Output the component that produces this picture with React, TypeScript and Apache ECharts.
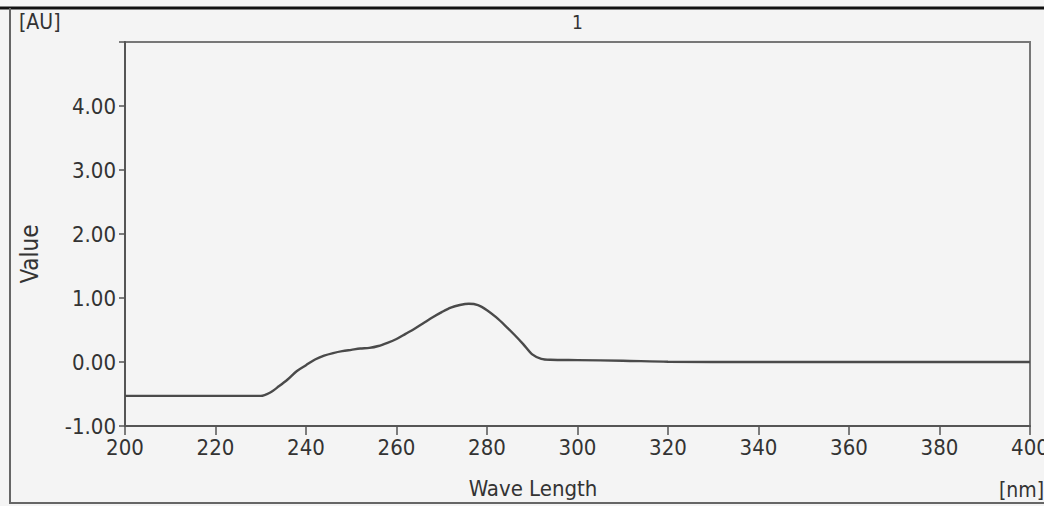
import React, { useEffect, useRef } from "react";
import * as echarts from "echarts";

const wavelengths = [200, 210, 220, 230, 232, 234, 236, 238, 240, 242, 244, 246, 248, 250, 252, 254, 256, 258, 260, 262, 264, 266, 268, 270, 272, 274, 276, 278, 280, 282, 284, 286, 288, 290, 292, 294, 300, 310, 320, 340, 360, 380, 400];
const absorbance = [-0.53, -0.53, -0.53, -0.53, -0.48, -0.38, -0.27, -0.14, -0.05, 0.04, 0.1, 0.14, 0.17, 0.19, 0.21, 0.22, 0.25, 0.3, 0.36, 0.44, 0.52, 0.61, 0.7, 0.78, 0.85, 0.89, 0.91, 0.89, 0.81, 0.7, 0.57, 0.43, 0.28, 0.12, 0.05, 0.035, 0.03, 0.02, 0.005, 0.0, 0.0, 0.0, 0.0];
const yTicks = [-1, 0, 1, 2, 3, 4, 5];

const FONT = "'DejaVu Sans Condensed', 'Liberation Sans Narrow', 'DejaVu Sans', sans-serif";
const TXT = "#333";

export default function App() {
  const ref = useRef<HTMLDivElement>(null);
  useEffect(() => {
    const chart = echarts.init(ref.current!, null, { renderer: "svg" });
    chart.setOption({
      animation: false,
      backgroundColor: "#f4f4f4",
      grid: { left: 125, right: 14, top: 42, bottom: 80, show: true, borderColor: "#777", borderWidth: 2, backgroundColor: "transparent", outerBoundsMode: "none", containLabel: false },
      xAxis: {
        type: "value", min: 200, max: 400, interval: 20,
        axisLine: { onZero: false, lineStyle: { color: "#555", width: 2 } },
        axisTick: { show: true, length: 9, lineStyle: { color: "#555", width: 1.5 } },
        axisLabel: { color: TXT, fontSize: 22, fontFamily: FONT, margin: 10 },
        splitLine: { show: false },
      },
      yAxis: {
        type: "value", min: yTicks[0], max: yTicks[yTicks.length - 1], interval: 1,
        axisLine: { show: true, lineStyle: { color: "#555", width: 2 } },
        axisTick: { show: true, length: 6, lineStyle: { color: "#555", width: 1.5 } },
        axisLabel: { color: TXT, fontSize: 22, fontFamily: FONT, margin: 9, formatter: (v: number) => (v === 5 ? "" : v.toFixed(2)) },
        splitLine: { show: false },
      },
      series: [{
        type: "line",
        data: wavelengths.map((w, i) => [w, absorbance[i]]),
        showSymbol: false,
        smooth: 0.3,
        lineStyle: { color: "#4a4a4a", width: 2.4 },
      }],
      graphic: [
        { type: "line", shape: { x1: 0, y1: 8, x2: 1044, y2: 8 }, style: { stroke: "#111", lineWidth: 3 } },
        { type: "line", shape: { x1: 10, y1: 8, x2: 10, y2: 504 }, style: { stroke: "#666", lineWidth: 2 } },
        { type: "line", shape: { x1: 10, y1: 503, x2: 1044, y2: 503 }, style: { stroke: "#666", lineWidth: 2 } },
        { type: "text", left: 19, top: 11, style: { text: "[AU]", fill: TXT, fontSize: 21, fontFamily: FONT } },
        { type: "text", left: 572, top: 12, style: { text: "1", fill: TXT, fontSize: 19, fontFamily: FONT } },
        { type: "text", x: 30, y: 254, rotation: Math.PI / 2, style: { text: "Value", fill: TXT, fontSize: 24, fontFamily: FONT, align: "center", verticalAlign: "middle" } },
        { type: "text", x: 533, y: 488, style: { text: "Wave Length", fill: TXT, fontSize: 22, fontFamily: FONT, align: "center", verticalAlign: "middle" } },
        { type: "text", x: 999, y: 490, style: { text: "[nm]", fill: TXT, fontSize: 21, fontFamily: FONT, align: "left", verticalAlign: "middle" } },
      ],
    });
    return () => chart.dispose();
  }, []);
  return <div ref={ref} style={{ position: "absolute", left: 0, top: 0, width: 1044, height: 506 }} />;
}
